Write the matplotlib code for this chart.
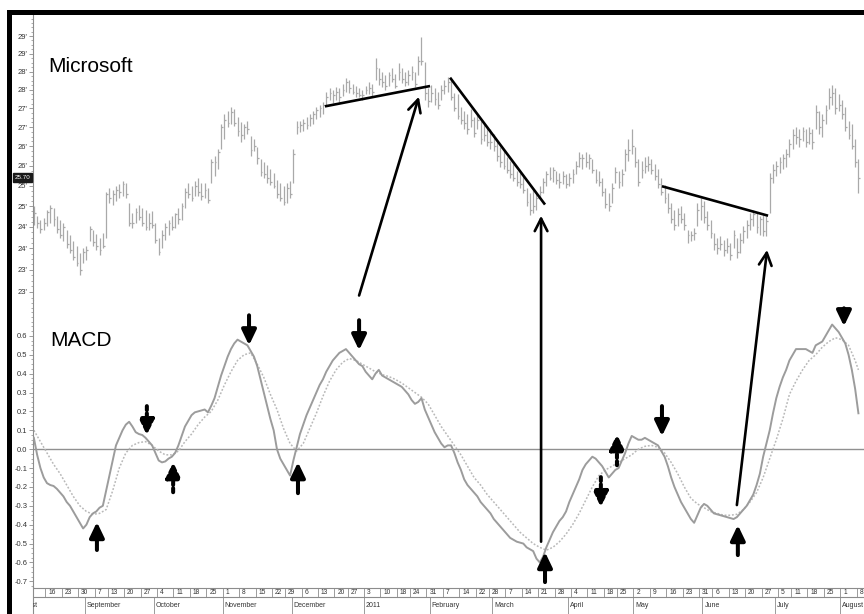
import numpy as np
import pandas as pd
import matplotlib
matplotlib.use("Agg")
import matplotlib.pyplot as plt
from matplotlib.patches import Rectangle, ConnectionPatch
from matplotlib.ticker import FixedLocator, FixedFormatter, NullFormatter
from matplotlib.transforms import offset_copy, blended_transform_factory

plt.rcParams['font.family'] = ['Liberation Sans Narrow', 'Liberation Sans', 'DejaVu Sans']

# ---------------------------------------------------------------- data
first_day = '2010-08-10'
last_day = '2011-08-08'
holidays = ['2010-09-06', '2010-11-25', '2010-12-24', '2011-01-17',
            '2011-02-21', '2011-04-22', '2011-05-30', '2011-07-04']

high = [25.01, 24.77, 24.67, 24.72, 24.91, 25.03, 24.96, 24.77, 24.67, 24.60,
        24.43, 24.31, 24.17, 24.06, 23.89, 24.01, 24.06, 24.53, 24.43, 24.33,
        24.24, 24.36, 25.36, 25.44, 25.39, 25.49, 25.54, 25.61, 25.56, 25.08,
        24.84, 24.96, 25.03, 24.96, 24.91, 24.84, 24.89, 24.60, 24.24, 24.43,
        24.60, 24.67, 24.77, 24.84, 24.96, 25.08, 25.44, 25.56, 25.49, 25.61,
        25.69, 25.56, 25.56, 25.44, 26.18, 26.25, 26.44, 27.08, 27.34, 27.42,
        27.52, 27.47, 27.26, 27.13, 27.08, 27.16, 26.77, 26.69, 26.49, 26.18,
        26.11, 26.01, 25.93, 25.81, 25.64, 25.56, 25.49, 25.56, 25.61, 26.44,
        27.16, 27.16, 27.21, 27.26, 27.34, 27.42, 27.52, 27.60, 27.68, 27.95,
        28.05, 28.00, 28.08, 28.05, 28.16, 28.32, 28.27, 28.16, 28.10, 28.05,
        28.00, 28.10, 28.22, 28.16, 28.88, 28.60, 28.49, 28.41, 28.49, 28.60,
        28.43, 28.74, 28.60, 28.49, 28.54, 28.65, 28.49, 28.93, 29.47, 28.77,
        28.05, 28.14, 28.05, 27.95, 28.14, 28.27, 28.35, 28.27, 27.92, 27.87,
        27.52, 27.42, 27.34, 27.47, 27.26, 27.34, 27.16, 27.08, 27.00, 26.95,
        26.82, 26.61, 26.49, 26.39, 26.23, 26.13, 26.06, 25.88, 25.81, 25.74,
        25.44, 25.32, 25.39, 25.32, 25.49, 25.69, 25.88, 25.98, 25.98, 25.88,
        25.81, 25.88, 25.79, 25.83, 25.93, 26.13, 26.36, 26.31, 26.36, 26.31,
        26.18, 25.93, 25.88, 25.69, 25.44, 25.32, 25.56, 25.98, 25.88, 25.93,
        26.44, 26.69, 26.95, 26.49, 26.18, 26.13, 26.23, 26.25, 26.18, 26.06,
        25.93, 25.69, 25.51, 25.32, 25.08, 24.91, 24.96, 25.01, 24.84, 24.43,
        24.41, 24.48, 25.08, 25.20, 25.13, 24.89, 24.67, 24.36, 24.24, 24.29,
        24.20, 24.24, 24.13, 24.43, 24.24, 24.36, 24.53, 24.67, 24.84, 24.91,
        24.84, 24.77, 24.79, 24.77, 25.81, 26.06, 26.13, 26.23, 26.31, 26.44,
        26.69, 26.95, 27.00, 26.95, 27.00, 26.95, 27.00, 26.95, 27.60, 27.42,
        27.34, 27.60, 28.05, 28.14, 28.05, 27.87, 27.73, 27.52, 27.16, 27.08,
        26.69, 26.18]

low = [24.55, 24.48, 24.36, 24.43, 24.53, 24.60, 24.53, 24.36, 24.24, 24.17,
       24.01, 23.89, 23.73, 23.59, 23.39, 23.66, 23.73, 24.17, 24.06, 23.96,
       23.84, 24.01, 24.24, 25.08, 25.03, 25.13, 25.20, 25.25, 25.20, 24.53,
       24.48, 24.60, 24.67, 24.53, 24.43, 24.43, 24.48, 24.13, 23.84, 24.01,
       24.20, 24.31, 24.43, 24.48, 24.58, 24.67, 24.96, 25.20, 25.13, 25.25,
       25.25, 25.15, 25.20, 25.08, 25.56, 25.74, 25.93, 26.44, 26.69, 27.00,
       27.08, 27.03, 26.77, 26.61, 26.69, 26.82, 26.25, 26.39, 26.06, 25.74,
       25.69, 25.56, 25.51, 25.44, 25.20, 25.13, 25.03, 25.08, 25.20, 25.56,
       26.82, 26.87, 26.90, 26.95, 27.03, 27.08, 27.21, 27.26, 27.34, 27.60,
       27.73, 27.65, 27.73, 27.68, 27.84, 27.95, 27.92, 27.87, 27.79, 27.79,
       27.73, 27.87, 27.89, 27.84, 28.27, 28.14, 28.08, 28.00, 28.10, 28.22,
       28.05, 28.27, 28.19, 28.10, 28.14, 28.27, 28.08, 28.41, 28.68, 27.73,
       27.52, 27.68, 27.60, 27.47, 27.73, 27.87, 27.95, 27.73, 27.42, 27.21,
       27.08, 26.95, 26.82, 27.00, 26.74, 26.95, 26.56, 26.64, 26.51, 26.44,
       26.39, 26.13, 25.98, 25.93, 25.81, 25.69, 25.61, 25.49, 25.44, 25.32,
       25.01, 24.79, 24.84, 24.91, 25.20, 25.32, 25.49, 25.64, 25.59, 25.54,
       25.44, 25.54, 25.44, 25.49, 25.56, 25.79, 25.98, 25.93, 25.98, 25.93,
       25.81, 25.56, 25.49, 25.25, 24.96, 24.89, 25.08, 25.56, 25.44, 25.49,
       25.88, 26.13, 26.31, 25.98, 25.49, 25.69, 25.81, 25.88, 25.79, 25.64,
       25.44, 25.27, 25.08, 24.84, 24.60, 24.43, 24.53, 24.60, 24.43, 24.13,
       24.17, 24.20, 24.53, 24.67, 24.60, 24.43, 24.24, 23.96, 23.87, 23.96,
       23.82, 23.89, 23.73, 24.01, 23.78, 23.89, 24.13, 24.24, 24.43, 24.53,
       24.36, 24.31, 24.29, 24.29, 24.84, 25.56, 25.74, 25.81, 25.93, 25.98,
       26.23, 26.44, 26.56, 26.49, 26.64, 26.49, 26.56, 26.44, 26.95, 26.82,
       26.74, 27.08, 27.47, 27.60, 27.34, 27.42, 27.21, 26.90, 26.69, 26.44,
       25.98, 25.32]

close = [24.84, 24.60, 24.45, 24.60, 24.85, 24.95, 24.70, 24.45, 24.30, 24.50,
         24.10, 23.95, 23.80, 23.65, 23.50, 23.90, 23.95, 24.45, 24.15, 24.05,
         23.95, 24.05, 25.30, 25.20, 25.30, 25.40, 25.35, 25.55, 25.30, 24.60,
         24.60, 24.85, 24.75, 24.60, 24.50, 24.60, 24.55, 24.20, 23.90, 24.30,
         24.50, 24.60, 24.50, 24.80, 24.70, 25.00, 25.35, 25.30, 25.20, 25.50,
         25.35, 25.25, 25.40, 25.15, 26.10, 26.10, 26.35, 27.00, 27.20, 27.10,
         27.40, 27.10, 26.90, 26.80, 27.00, 26.95, 26.40, 26.50, 26.20, 25.85,
         25.80, 25.70, 25.60, 25.50, 25.30, 25.20, 25.10, 25.45, 25.30, 26.30,
         27.00, 27.05, 27.10, 27.05, 27.25, 27.35, 27.45, 27.50, 27.60, 27.80,
         27.90, 27.85, 27.95, 27.80, 28.00, 28.20, 28.05, 27.95, 27.90, 27.85,
         27.85, 28.00, 28.05, 27.95, 28.60, 28.30, 28.20, 28.10, 28.40, 28.30,
         28.10, 28.50, 28.30, 28.20, 28.40, 28.50, 28.15, 28.80, 28.80, 27.90,
         27.70, 27.90, 27.75, 27.60, 28.00, 28.10, 28.20, 27.80, 27.50, 27.30,
         27.20, 27.10, 26.95, 27.20, 26.85, 27.20, 26.70, 26.80, 26.60, 26.60,
         26.50, 26.25, 26.10, 26.00, 25.90, 25.80, 25.70, 25.60, 25.55, 25.40,
         25.10, 24.90, 25.00, 25.20, 25.35, 25.60, 25.80, 25.70, 25.90, 25.65,
         25.60, 25.75, 25.55, 25.70, 25.80, 26.00, 26.20, 26.20, 26.10, 26.20,
         25.90, 25.65, 25.60, 25.35, 25.05, 25.00, 25.45, 25.85, 25.60, 25.80,
         26.30, 26.40, 26.50, 26.10, 25.60, 25.90, 26.00, 26.05, 25.90, 25.75,
         25.55, 25.35, 25.20, 24.95, 24.70, 24.55, 24.80, 24.70, 24.55, 24.30,
         24.30, 24.35, 24.90, 25.00, 24.75, 24.55, 24.35, 24.10, 24.00, 24.10,
         23.95, 24.05, 23.85, 24.30, 23.90, 24.20, 24.40, 24.55, 24.70, 24.80,
         24.50, 24.70, 24.40, 24.65, 25.70, 25.90, 26.00, 26.10, 26.20, 26.30,
         26.55, 26.80, 26.75, 26.70, 26.90, 26.60, 26.85, 26.60, 27.40, 27.00,
         27.20, 27.45, 27.80, 27.90, 27.50, 27.60, 27.35, 27.00, 26.80, 26.50,
         26.10, 25.70]

macd = [0.06, -0.03, -0.10, -0.15, -0.18, -0.19, -0.195, -0.21, -0.23, -0.25,
        -0.28, -0.30, -0.33, -0.36, -0.39, -0.42, -0.40, -0.36, -0.34, -0.33,
        -0.31, -0.30, -0.22, -0.14, -0.06, 0.02, 0.06, 0.10, 0.13, 0.145,
        0.12, 0.09, 0.08, 0.075, 0.06, 0.04, 0.02, -0.02, -0.06, -0.07,
        -0.065, -0.05, -0.04, -0.02, 0.02, 0.07, 0.12, 0.15, 0.18, 0.195,
        0.20, 0.205, 0.21, 0.195, 0.23, 0.27, 0.33, 0.39, 0.44, 0.49,
        0.53, 0.56, 0.58, 0.57, 0.56, 0.55, 0.52, 0.49, 0.44, 0.37,
        0.30, 0.23, 0.16, 0.10, 0.0, -0.05, -0.08, -0.11, -0.14, -0.06,
        0.01, 0.08, 0.13, 0.18, 0.22, 0.26, 0.30, 0.34, 0.37, 0.41,
        0.44, 0.47, 0.49, 0.51, 0.52, 0.53, 0.51, 0.49, 0.47, 0.45,
        0.44, 0.41, 0.39, 0.37, 0.40, 0.42, 0.39, 0.38, 0.37, 0.36,
        0.35, 0.34, 0.33, 0.31, 0.29, 0.26, 0.24, 0.25, 0.27, 0.21,
        0.17, 0.13, 0.09, 0.06, 0.03, 0.01, 0.02, 0.02, -0.02, -0.07,
        -0.11, -0.16, -0.19, -0.21, -0.23, -0.25, -0.28, -0.30, -0.32, -0.34,
        -0.37, -0.39, -0.41, -0.43, -0.45, -0.47, -0.48, -0.49, -0.495, -0.50,
        -0.52, -0.53, -0.54, -0.58, -0.60, -0.57, -0.52, -0.48, -0.44, -0.41,
        -0.38, -0.36, -0.33, -0.28, -0.24, -0.20, -0.16, -0.11, -0.08, -0.06,
        -0.04, -0.05, -0.07, -0.09, -0.12, -0.15, -0.13, -0.11, -0.10, -0.06,
        -0.02, 0.03, 0.07, 0.06, 0.05, 0.05, 0.06, 0.05, 0.04, 0.03,
        0.02, -0.01, -0.04, -0.09, -0.15, -0.20, -0.24, -0.28, -0.31, -0.34,
        -0.37, -0.39, -0.35, -0.31, -0.29, -0.30, -0.32, -0.34, -0.345, -0.35,
        -0.355, -0.36, -0.365, -0.37, -0.36, -0.34, -0.32, -0.30, -0.27, -0.24,
        -0.19, -0.13, -0.04, 0.03, 0.10, 0.19, 0.27, 0.33, 0.38, 0.42,
        0.47, 0.50, 0.53, 0.53, 0.53, 0.53, 0.52, 0.51, 0.55, 0.56,
        0.57, 0.60, 0.63, 0.66, 0.64, 0.62, 0.59, 0.56, 0.50, 0.42,
        0.32, 0.19]

# signal line, one value every second bar plus the final bar
signal = [0.10, 0.04, -0.02, -0.08, -0.13, -0.19, -0.25, -0.30, -0.33, -0.345,
          -0.34, -0.32, -0.22, -0.10, -0.02, 0.02, 0.035, 0.04, 0.02, -0.01,
          -0.03, -0.03, -0.01, 0.04, 0.08, 0.13, 0.17, 0.20, 0.26, 0.34,
          0.41, 0.47, 0.50, 0.51, 0.45, 0.38, 0.29, 0.21, 0.11, 0.03,
          -0.01, 0.03, 0.11, 0.19, 0.28, 0.36, 0.42, 0.46, 0.48, 0.47,
          0.45, 0.43, 0.41, 0.395, 0.385, 0.37, 0.35, 0.325, 0.30, 0.275,
          0.24, 0.18, 0.12, 0.07, 0.02, -0.03, -0.09, -0.15, -0.19, -0.24,
          -0.28, -0.32, -0.36, -0.40, -0.44, -0.47, -0.50, -0.52, -0.535, -0.52,
          -0.49, -0.45, -0.40, -0.34, -0.27, -0.20, -0.14, -0.11, -0.09, -0.07,
          -0.05, -0.03, 0.0, 0.015, 0.02, 0.01, -0.02, -0.07, -0.13, -0.20,
          -0.26, -0.29, -0.31, -0.33, -0.34, -0.35, -0.35, -0.345, -0.32, -0.28,
          -0.23, -0.15, -0.05, 0.05, 0.16, 0.29, 0.36, 0.42, 0.47, 0.50,
          0.54, 0.57, 0.59, 0.58, 0.55, 0.47, 0.42]

price_ticks = [23.0, 23.5, 24.0, 24.5, 25.0, 25.5, 26.0, 26.5, 27.0, 27.5, 28.0, 28.5, 29.0, 29.5]
macd_ticks = [-0.7, -0.6, -0.5, -0.4, -0.3, -0.2, -0.1, 0.0, 0.1, 0.2, 0.3, 0.4, 0.5, 0.6]
month_names = {1: '2011', 2: 'February', 3: 'March', 4: 'April', 5: 'May', 6: 'June',
               7: 'July', 8: 'August', 9: 'September', 10: 'October',
               11: 'November', 12: 'December'}

# annotations: (bar, price) pairs on the price panel, (bar, MACD) on the lower one
trend_lines = [((88.6, 27.55), (120.6, 28.10)),
               ((126.7, 28.33), (155.6, 25.04)),
               ((191.2, 25.49), (223.5, 24.77))]
long_arrows = [  # (tail panel, tail, tip on price panel)
    ('price', (99.0, 22.92), (117.2, 27.81)),
    ('macd', (154.4, -0.49), (154.4, 24.77)),
    ('macd', (214.0, -0.296), (223.2, 23.96)),
]
crossover_arrows = [  # bar, tail, tip, dashed
    (19.2, -0.534, -0.386, False),
    (34.4, 0.228, 0.074, True),
    (42.4, -0.228, -0.069, True),
    (65.5, 0.709, 0.550, False),
    (80.4, -0.233, -0.069, False),
    (99.0, 0.683, 0.524, False),
    (155.6, -0.704, -0.545, False),
    (177.5, -0.085, 0.079, True),
    (172.6, -0.148, -0.307, True),
    (191.2, 0.228, 0.069, False),
    (214.3, -0.561, -0.402, False),
    (246.6, 0.746, 0.651, False),
]

# ---------------------------------------------------------------- calendar
days = pd.bdate_range(first_day, last_day)
days = days[~days.isin(pd.to_datetime(holidays))]
assert len(days) == len(close) == len(macd)
bars = np.arange(len(days))
signal_bars = np.r_[np.arange(0, len(days) - 1, 2), len(days) - 1]

iso_week = days.isocalendar().week.values
week_start = [k for k in range(1, len(days)) if iso_week[k] != iso_week[k - 1]]
month_start = [k for k in range(1, len(days)) if days[k].month != days[k - 1].month]

# ---------------------------------------------------------------- figure
AXIS = '#8c8c8c'
BAR = '#a9a9a9'
W, H = 864.0, 614.0
fig = plt.figure(figsize=(8.64, 6.14), dpi=100)
fig.patch.set_facecolor('white')


def box(x0, y0, x1, y1):
    return [x0 / W, 1 - y1 / H, (x1 - x0) / W, (y1 - y0) / H]


ax_p = fig.add_axes(box(33, 14, 864, 300))
ax_m = fig.add_axes(box(33, 300, 864, 587))
ax_d = fig.add_axes(box(33, 587, 864, 614))

for ax in (ax_p, ax_m, ax_d):
    ax.set_xlim(-0.26, 252.7)
    ax.set_facecolor('none')
    for s in ('top', 'right', 'bottom'):
        ax.spines[s].set_visible(False)
    ax.spines['left'].set_color(AXIS)
    ax.spines['left'].set_linewidth(0.8)
    ax.tick_params(axis='x', which='both', bottom=False, labelbottom=False)

# price bars (high-low with close tick)
ax_p.vlines(bars, low, high, color=BAR, lw=0.9)
ax_p.hlines(close, bars, bars + 0.55, color=BAR, lw=0.9)
ax_p.set_yscale('log')
ax_p.set_ylim(22.82, 30.14)
ax_p.yaxis.set_major_locator(FixedLocator(price_ticks))
ax_p.yaxis.set_major_formatter(FixedFormatter([f"{int(t)}'" for t in price_ticks]))
ax_p.yaxis.set_minor_locator(FixedLocator(np.arange(22.875, 30.1, 0.125)))
ax_p.yaxis.set_minor_formatter(NullFormatter())
ax_p.tick_params(axis='y', which='major', length=3, width=0.6, color=AXIS,
                 labelsize=5.5, pad=1, labelcolor='#333333')
ax_p.tick_params(axis='y', which='minor', length=1.5, width=0.5, color=AXIS)

# last close tag
tag_tr = blended_transform_factory(ax_p.transAxes, ax_p.transData)
ax_p.text(-0.003, close[-1], f"{close[-1]:.2f}", transform=tag_tr, ha='right',
          va='center', fontsize=4.5, color='white', clip_on=False,
          bbox=dict(boxstyle='square,pad=0.3', fc='#1a1a1a', ec='#1a1a1a'))

# MACD panel
ax_m.axhline(0, color='#909090', lw=1.0, zorder=1)
ax_m.plot(bars, macd, color='#9c9c9c', lw=1.4, zorder=3)
ax_m.plot(signal_bars, signal, color='#b8b8b8', lw=1.1, ls=(0, (1.2, 1.2)), zorder=2)
ax_m.set_ylim(-0.73, 0.79)
ax_m.yaxis.set_major_locator(FixedLocator(macd_ticks))
ax_m.yaxis.set_major_formatter(FixedFormatter([f"{t:.1f}" for t in macd_ticks]))
ax_m.yaxis.set_minor_locator(FixedLocator(np.arange(-0.725, 0.79, 0.025)))
ax_m.yaxis.set_minor_formatter(NullFormatter())
ax_m.tick_params(axis='y', which='major', length=3, width=0.6, color=AXIS,
                 labelsize=5.5, pad=1, labelcolor='#333333')
ax_m.tick_params(axis='y', which='minor', length=1.5, width=0.5, color=AXIS)

# date band
ax_d.set_ylim(27, 0)
ax_d.set_yticks([])
ax_d.axhline(1, color=AXIS, lw=0.8)
ax_d.axhline(10, color=AXIS, lw=0.8)
ax_d.vlines(np.array(week_start) - 0.5, 1, 10, color=AXIS, lw=0.6)
ax_d.vlines(np.array(month_start) - 0.5, 10, 27, color=AXIS, lw=0.6)
day_tr = offset_copy(ax_d.transData, fig=fig, x=3.0, y=0, units='dots')
for k in week_start:
    ax_d.text(k - 0.5, 5.6, str(days[k].day), transform=day_tr, fontsize=4.8,
              ha='left', va='center', color='#333333', clip_on=True)
mon_tr = offset_copy(ax_d.transData, fig=fig, x=2.0, y=0, units='dots')
for k in month_start:
    ax_d.text(k - 0.5, 18.5, month_names[days[k].month], transform=mon_tr,
              fontsize=5, ha='left', va='center', color='#333333', clip_on=True)
# the month already under way at the left edge runs out of the band
ax_d.text(1.2, 18.5, month_names[days[0].month], fontsize=5, ha='right',
          va='center', color='#333333', clip_on=True)

# trend lines on price
for (x0, y0), (x1, y1) in trend_lines:
    ax_p.plot([x0, x1], [y0, y1], color='black', lw=1.9, solid_capstyle='butt', zorder=5)

# long arrows linking MACD signals to price
for panel, tail, tip in long_arrows:
    cp = ConnectionPatch(xyA=tail, coordsA='data', axesA=ax_p if panel == 'price' else ax_m,
                         xyB=tip, coordsB='data', axesB=ax_p,
                         arrowstyle='->,head_length=0.75,head_width=0.38',
                         mutation_scale=12, lw=1.9, color='black',
                         shrinkA=0, shrinkB=0, zorder=6)
    fig.add_artist(cp)

# crossover arrows in the MACD panel
for bx, tail, tip, dashed in crossover_arrows:
    ax_m.annotate('', xy=(bx, tip), xytext=(bx, tail),
                  arrowprops=dict(arrowstyle='-|>,head_length=0.75,head_width=0.36',
                                  mutation_scale=12, lw=2.9, color='black',
                                  shrinkA=0, shrinkB=0,
                                  ls=(0, (1.0, 0.8)) if dashed else '-'),
                  zorder=6)

# panel titles
fig.text(48 / W, 1 - 72 / H, 'Microsoft', fontsize=15, family='Liberation Sans',
         va='baseline', ha='left')
fig.text(50 / W, 1 - 346 / H, 'MACD', fontsize=15, family='Liberation Sans',
         va='baseline', ha='left')

# outer frame
fig.add_artist(Rectangle((7 / W, 0), 5 / W, 1 - 10 / H, transform=fig.transFigure,
                         fc='black', ec='none', zorder=10))
fig.add_artist(Rectangle((7 / W, 1 - 14.5 / H), 1, 4.5 / H, transform=fig.transFigure,
                         fc='black', ec='none', zorder=10))

fig.savefig('out.png', dpi=100, facecolor='white')
